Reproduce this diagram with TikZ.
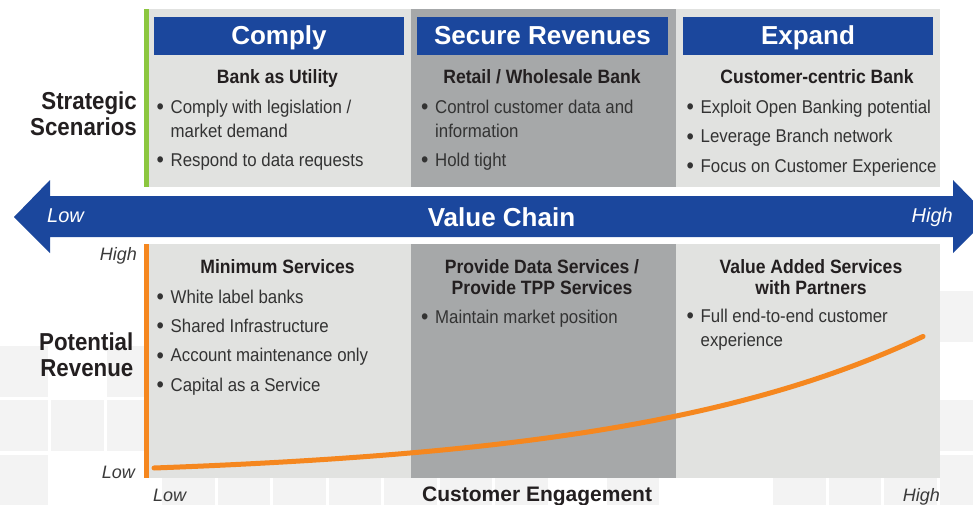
\documentclass[tikz,border=0pt]{standalone}
\usepackage{fontspec}
\setmainfont{Liberation Sans}
\newfontfamily\condfont[FakeStretch=0.91]{Liberation Sans}
\definecolor{vcblue}{HTML}{1B479D}
\definecolor{lightp}{HTML}{E1E2E0}
\definecolor{darkp}{HTML}{A6A8A9}
\definecolor{barg}{HTML}{8CC63F}
\definecolor{baro}{HTML}{F5871F}
\definecolor{gridc}{HTML}{F3F3F3}
\definecolor{headc}{HTML}{231F20}
\definecolor{bodyc}{HTML}{333333}
\definecolor{axisc}{HTML}{3A3A3A}
\newcommand\bul{\makebox[14pt][l]{\raisebox{-1.3pt}{\fontsize{23}{0}\selectfont\textbullet}}}
\newcommand\cont{\hspace*{14pt}}
\tikzset{
  panel/.style={inner sep=0pt, outer sep=0pt, anchor=north west, draw=none},
  hdr/.style={fill=vcblue, text=white, inner sep=0pt, outer sep=0pt,
    minimum width=250pt, minimum height=38pt, text height=18pt, text depth=0pt,
    font=\bfseries\fontsize{26}{30}\selectfont},
  listtxt/.style={inner sep=0pt, anchor=base west, align=left, text=bodyc,
    font=\condfont\fontsize{18.5}{24.5}\selectfont},
  headtxt/.style={inner sep=0pt, anchor=base, align=center, text=headc,
    font=\condfont\bfseries\fontsize{19.3}{21.3}\selectfont},
  sidelbl/.style={inner sep=0pt, anchor=base east, align=right, text=headc,
    font=\condfont\bfseries\fontsize{24.5}{26.5}\selectfont},
  axislbl/.style={inner sep=0pt, text=axisc, font=\itshape\fontsize{18}{20}\selectfont},
  arrowlbl/.style={inner sep=0pt, text=white, font=\itshape\fontsize{20}{22}\selectfont},
  gridsq/.style={fill=gridc},
  curve/.style={draw=baro, line width=5pt, line cap=round}
}
\begin{document}
\begin{tikzpicture}[x=1pt,y=-1pt]
\useasboundingbox (0,0) rectangle (973,505);
% background grid squares
\foreach \k/\r in {0/1,2/1,0/2,1/2,2/2,0/3,3/3,4/3,5/3,6/3,7/3,8/3,9/3,11/3,14/3,15/3,16/3,17/3,17/0,17/2}
  \fill[gridsq] ({-4.5+55.55*\k},{291+54.7*\r}) rectangle ++(52.5,51);
% top panels
\node[panel, fill=lightp, minimum width=263pt, minimum height=177.5pt] (t1) at (148,9.5) {};
\node[panel, fill=darkp, minimum width=265pt, minimum height=177.5pt] (t2) at (411,9.5) {};
\node[panel, fill=lightp, minimum width=264pt, minimum height=177.5pt] (t3) at (676,9.5) {};
\fill[barg] (144,9.5) rectangle (148.5,187);
% bottom panels
\node[panel, fill=lightp, minimum width=263pt, minimum height=234pt] (b1) at (148,244) {};
\node[panel, fill=darkp, minimum width=265pt, minimum height=234pt] (b2) at (411,244) {};
\node[panel, fill=lightp, minimum width=264pt, minimum height=234pt] (b3) at (676,244) {};
\fill[baro] (144,244) rectangle (148.5,478);
% headers
\node[hdr] (h1) at (279,36) {Comply};
\node[hdr, minimum width=251pt] (h2) at (542.5,36) {Secure Revenues};
\node[hdr] (h3) at (808,36) {Expand};
% top column texts (multi-line nodes: base = last line)
\node[headtxt] (s1) at (277.5,83.3) {Bank as Utility};
\node[listtxt] (l1) at (156.5,166.7) {\bul Comply with legislation /\\\cont market demand\\[4.5pt]\bul Respond to data requests};
\node[headtxt] (s2) at (542,83.3) {Retail / Wholesale Bank};
\node[listtxt] (l2) at (421,166.7) {\bul Control customer data and\\\cont information\\[4.5pt]\bul Hold tight};
\node[headtxt] (s3) at (817,83.3) {Customer-centric Bank};
\node[listtxt] (l3) at (686.5,172.3) {\bul Exploit Open Banking potential\\[5pt]\bul Leverage Branch network\\[5pt]\bul Focus on Customer Experience};
% side labels
\node[sidelbl] (ss) at (137,136) {Strategic\\Scenarios};
\node[sidelbl] (pr) at (133.5,376.7) {Potential\\Revenue};
% value chain arrow
\fill[vcblue] (14,217) -- (50,180) -- (50,196) -- (953,196) -- (953,180) -- (989,217)
  -- (953,253) -- (953,237) -- (50,237) -- (50,253) -- cycle;
\node[inner sep=0pt, anchor=base, text=white, font=\bfseries\fontsize{26}{30}\selectfont] (vc) at (501.5,226.7) {Value Chain};
\node[arrowlbl, anchor=base west] (alow) at (47,222.7) {Low};
\node[arrowlbl, anchor=base east] (ahigh) at (953,222.7) {High};
% bottom column texts
\node[headtxt] (m1) at (277.5,273.3) {Minimum Services};
\node[listtxt] (n1) at (156.5,391) {\bul White label banks\\[4.8pt]\bul Shared Infrastructure\\[4.8pt]\bul Account maintenance only\\[4.8pt]\bul Capital as a Service};
\node[headtxt] (m2) at (542,294.3) {Provide Data Services /\\Provide TPP Services};
\node[listtxt] (n2) at (421,323.3) {\bul Maintain market position};
\node[headtxt] (m3) at (811,294.3) {Value Added Services\\with Partners};
\node[listtxt] (n3) at (686.5,346.7) {\bul Full end-to-end customer\\\cont experience};
% curve
\draw[curve] plot[domain=154:923, samples=60, smooth] (\x,{468-11.33*(exp(0.0033*(\x-154))-1)});
% axis labels
\node[axislbl, anchor=base east] (yhigh) at (137,260.7) {High};
\node[axislbl, anchor=base east] (ylow) at (135,478.3) {Low};
\node[axislbl, anchor=base west] (xlow) at (153,501.7) {Low};
\node[axislbl, anchor=base east] (xhigh) at (940,501.7) {High};
\node[inner sep=0pt, anchor=base west, text=headc, font=\bfseries\fontsize{21}{24}\selectfont] (ce) at (422,501.7) {Customer Engagement};
\end{tikzpicture}
\end{document}
